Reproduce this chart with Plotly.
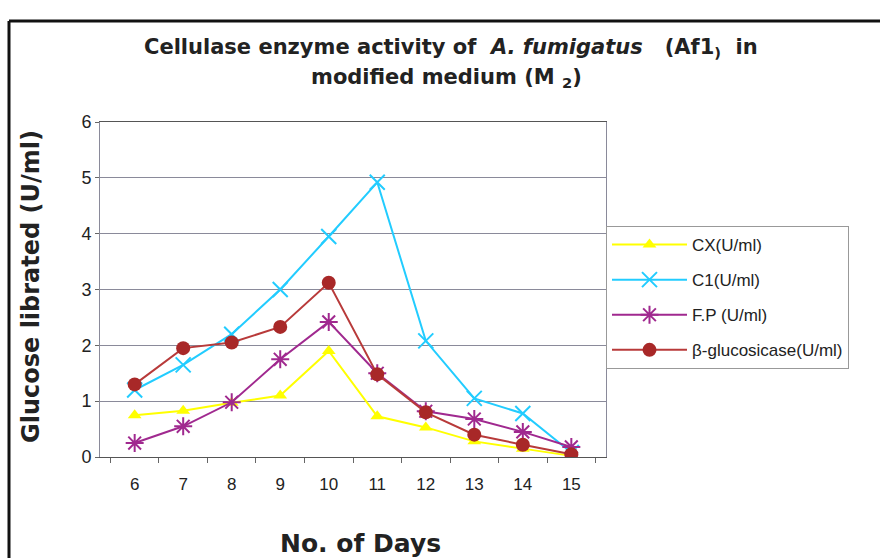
import plotly.graph_objects as go

days = ["6", "7", "8", "9", "10", "11", "12", "13", "14", "15"]
cx = [0.75, 0.83, 0.97, 1.10, 1.90, 0.73, 0.53, 0.28, 0.15, 0.02]
c1 = [1.20, 1.65, 2.20, 3.00, 3.95, 4.92, 2.08, 1.05, 0.78, 0.08]
fp = [0.25, 0.55, 0.98, 1.75, 2.42, 1.50, 0.82, 0.68, 0.45, 0.18]
bg = [1.30, 1.95, 2.05, 2.33, 3.12, 1.48, 0.80, 0.40, 0.22, 0.05]
names = ["CX(U/ml)", "C1(U/ml)", "F.P (U/ml)", "β-glucosicase(U/ml)"]
yticks = [0, 1, 2, 3, 4, 5, 6]
title1 = "Cellulase&nbsp;enzyme&nbsp;activity&nbsp;of&nbsp;&nbsp;<i>A.&nbsp;fumigatus</i>&nbsp;&nbsp;&nbsp;(Af1<sub>)</sub>&nbsp;&nbsp;in"
title2 = "modified&nbsp;medium&nbsp;(M&nbsp;<sub>2</sub>)"

PX_L, PX_R, PY_T, PY_B = 100, 606, 122, 457
def px(x):
    return (x - PX_L) / (PX_R - PX_L)
def py(y):
    return (PY_B - y) / (PY_B - PY_T)

fig = go.Figure()
fig.add_trace(go.Scatter(x=days, y=cx, name=names[0], mode="lines+markers", legendgroup="a",
                         line=dict(color="#FFFF00", width=2),
                         marker=dict(symbol="triangle-up", size=12, color="#FFFF00")))
fig.add_trace(go.Scatter(x=days, y=c1, name=names[1], mode="lines+markers", legendgroup="b",
                         line=dict(color="#22CCFF", width=2),
                         marker=dict(symbol="x-thin-open", size=15, color="#22CCFF",
                                     line=dict(width=2, color="#22CCFF"))))
fig.add_trace(go.Scatter(x=days, y=fp, name=names[2], mode="lines+markers", legendgroup="c",
                         line=dict(color="#A0298F", width=2),
                         marker=dict(symbol="asterisk-open", size=15, color="#A0298F",
                                     line=dict(width=2, color="#A0298F"))))
fig.add_trace(go.Scatter(x=days, y=bg, name=names[3], mode="lines+markers", legendgroup="d",
                         line=dict(color="#B83A3A", width=2),
                         marker=dict(symbol="circle", size=14, color="#A82828")))

fig.update_layout(
    width=880, height=558,
    margin=dict(l=PX_L, r=880 - PX_R, t=PY_T, b=558 - PY_B),
    paper_bgcolor="white", plot_bgcolor="white",
    font=dict(family="Liberation Sans, Arial", color="#222"),
    xaxis=dict(
        type="category", tickson="boundaries", ticks="outside", ticklen=5, tickcolor="#666",
        showgrid=False, showline=True, linecolor="#555", linewidth=1, mirror=True,
        tickfont=dict(size=17, family="Liberation Sans, Arial"), ticklabelstandoff=12,
    ),
    yaxis=dict(
        range=[0, 6], tickvals=yticks, ticks="outside", ticklen=4, tickcolor="#666",
        showgrid=True, gridcolor="#8a8a9a", gridwidth=1,
        showline=True, linecolor="#8a8a9a", linewidth=1, mirror=True, zeroline=False,
        tickfont=dict(size=18, family="Liberation Sans, Arial"),
    ),
    legend=dict(
        x=1.0, xanchor="left", y=py(226), yanchor="top",
        bgcolor="white", bordercolor="#999", borderwidth=1,
        font=dict(size=17, family="Liberation Sans, Arial", color="#222"),
        traceorder="grouped", tracegroupgap=10, itemwidth=75,
    ),
    showlegend=True,
)

# titles as text
fig.add_annotation(text=title1, xref="paper", yref="paper", x=px(451), y=py(48),
                   xanchor="center", yanchor="middle", showarrow=False,
                   font=dict(family="DejaVu Sans", size=21, color="#222", weight="bold"))
fig.add_annotation(text=title2, xref="paper", yref="paper", x=px(446), y=py(78),
                   xanchor="center", yanchor="middle", showarrow=False,
                   font=dict(family="DejaVu Sans", size=21, color="#222", weight="bold"))
fig.add_annotation(text="No. of Days", xref="paper", yref="paper", x=px(360), y=py(543),
                   xanchor="center", yanchor="middle", showarrow=False,
                   font=dict(family="DejaVu Sans", size=25, color="#222", weight="bold"))
fig.add_annotation(text="Glucose librated (U/ml)", xref="paper", yref="paper", x=px(31), y=py(287),
                   xanchor="center", yanchor="middle", showarrow=False, textangle=-90,
                   font=dict(family="DejaVu Sans", size=24, color="#222", weight="bold"))

# outer frame lines (top and left)
fig.add_shape(type="line", xref="paper", yref="paper",
              x0=px(9), x1=px(880), y0=py(21), y1=py(21),
              line=dict(color="#111", width=3))
fig.add_shape(type="line", xref="paper", yref="paper",
              x0=px(9), x1=px(9), y0=py(21), y1=py(560),
              line=dict(color="#111", width=3))

fig.write_html("out.html")
